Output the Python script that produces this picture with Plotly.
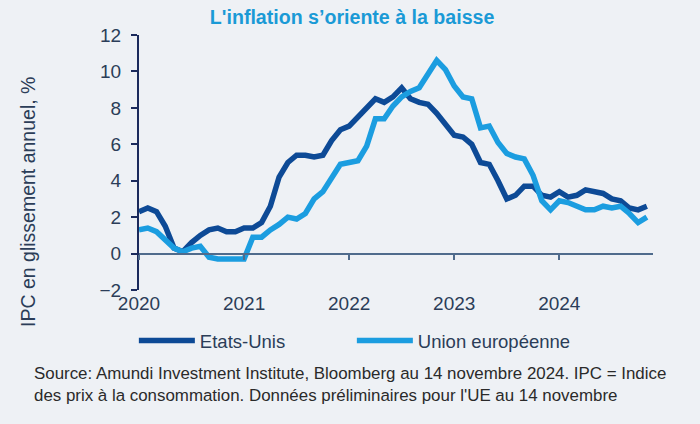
import plotly.graph_objects as go

# Monthly data, Dec 2019 -> Oct 2024 (YoY %)
months = ["2019-12",
          "2020-01","2020-02","2020-03","2020-04","2020-05","2020-06","2020-07","2020-08","2020-09","2020-10","2020-11","2020-12",
          "2021-01","2021-02","2021-03","2021-04","2021-05","2021-06","2021-07","2021-08","2021-09","2021-10","2021-11","2021-12",
          "2022-01","2022-02","2022-03","2022-04","2022-05","2022-06","2022-07","2022-08","2022-09","2022-10","2022-11","2022-12",
          "2023-01","2023-02","2023-03","2023-04","2023-05","2023-06","2023-07","2023-08","2023-09","2023-10","2023-11","2023-12",
          "2024-01","2024-02","2024-03","2024-04","2024-05","2024-06","2024-07","2024-08","2024-09","2024-10"]

us_cpi = [2.3,
          2.5, 2.3, 1.5, 0.3, 0.1, 0.6, 1.0, 1.3, 1.4, 1.2, 1.2, 1.4,
          1.4, 1.7, 2.6, 4.2, 5.0, 5.4, 5.4, 5.3, 5.4, 6.2, 6.8, 7.0,
          7.5, 7.9, 8.5, 8.3, 8.6, 9.1, 8.5, 8.3, 8.2, 7.7, 7.1, 6.5,
          6.4, 6.0, 5.0, 4.9, 4.0, 3.0, 3.2, 3.7, 3.7, 3.2, 3.1, 3.4,
          3.1, 3.2, 3.5, 3.4, 3.3, 3.0, 2.9, 2.5, 2.4, 2.6]

eu_cpi = [1.3,
          1.4, 1.2, 0.7, 0.3, 0.1, 0.3, 0.4, -0.2, -0.3, -0.3, -0.3, -0.3,
          0.9, 0.9, 1.3, 1.6, 2.0, 1.9, 2.2, 3.0, 3.4, 4.1, 4.9, 5.0,
          5.1, 5.9, 7.4, 7.4, 8.1, 8.6, 8.9, 9.1, 9.9, 10.6, 10.1, 9.2,
          8.6, 8.5, 6.9, 7.0, 6.1, 5.5, 5.3, 5.2, 4.3, 2.9, 2.4, 2.9,
          2.8, 2.6, 2.4, 2.4, 2.6, 2.5, 2.6, 2.2, 1.7, 2.0]

year_labels = ["2020", "2021", "2022", "2023", "2024"]
y_min, y_max = -2, 12

x_idx = list(range(len(months)))
tick_idx = [i for i, m in enumerate(months) if m.endswith("-12")]

US_COL = "#0d4a96"
EU_COL = "#1b9de0"
BG = "#eef1f5"
TXT = "#2b3d58"
FONT = "Arial, Liberation Sans, sans-serif"

fig = go.Figure()
fig.add_trace(go.Scatter(x=x_idx, y=us_cpi, name="Etats-Unis", mode="lines",
                         line=dict(color=US_COL, width=5.5), customdata=months))
fig.add_trace(go.Scatter(x=x_idx, y=eu_cpi, name="Union européenne", mode="lines",
                         line=dict(color=EU_COL, width=5.5), customdata=months))
# invisible trace on overlay axis to carry the zero-line axis with ticks
fig.add_trace(go.Scatter(x=[x_idx[0]], y=[0], xaxis="x2", mode="markers",
                         marker=dict(opacity=0), showlegend=False, hoverinfo="skip"))

fig.update_layout(
    width=700, height=424,
    paper_bgcolor=BG, plot_bgcolor=BG,
    margin=dict(l=139, r=47, t=35, b=134),
    font=dict(family=FONT, color=TXT, size=19),
    title=dict(text="<b>L'inflation s’oriente à la baisse</b>", x=0.503, y=0.96,
               xanchor="center", yanchor="middle",
               font=dict(family=FONT, size=19.6, color="#1a9ad6")),
    xaxis=dict(range=[0, 58.7], tickvals=tick_idx, ticktext=year_labels,
               showgrid=False, zeroline=False, showline=False, ticks="",
               tickfont=dict(size=19, color=TXT)),
    xaxis2=dict(overlaying="x", matches="x", anchor="free",
                position=(0 - y_min) / (y_max - y_min),
                tickvals=tick_idx, showticklabels=False,
                showgrid=False, zeroline=False, showline=True,
                linecolor="#4f6b8c", linewidth=2,
                ticks="outside", ticklen=5, tickwidth=2, tickcolor="#4f6b8c"),
    yaxis=dict(range=[y_min, y_max], dtick=2, showgrid=False, zeroline=False,
               showline=True, linecolor="#1b2a5c", linewidth=2,
               ticks="outside", ticklen=6, tickwidth=2, tickcolor="#1b2a5c",
               ticklabelstandoff=6, tickfont=dict(size=19, color=TXT)),
    legend=dict(orientation="h", x=-0.01, y=-0.2, xanchor="left", yanchor="middle",
                bgcolor="rgba(0,0,0,0)", font=dict(size=18.5, color=TXT),
                itemwidth=56, entrywidth=147, entrywidthmode="pixels"),
    showlegend=True,
    annotations=[
        dict(text="IPC en glissement annuel, %", textangle=-90,
             xref="paper", yref="paper", x=-0.216, y=0.345,
             xanchor="center", yanchor="middle", showarrow=False,
             font=dict(size=19.5, color=TXT)),
        dict(text="Source: Amundi Investment Institute, Bloomberg au 14 novembre 2024. IPC = Indice<br>"
                  "des prix à la consommation. Données préliminaires pour l'UE au 14 novembre",
             xref="paper", yref="paper", x=-0.208, y=-0.369,
             xanchor="left", yanchor="middle", align="left", showarrow=False,
             font=dict(size=16.9, color="#2a2a2a")),
    ],
)

fig.write_html("out.html", config={"displayModeBar": False},
               post_script="document.body.style.margin='0';document.body.style.padding='0';")
